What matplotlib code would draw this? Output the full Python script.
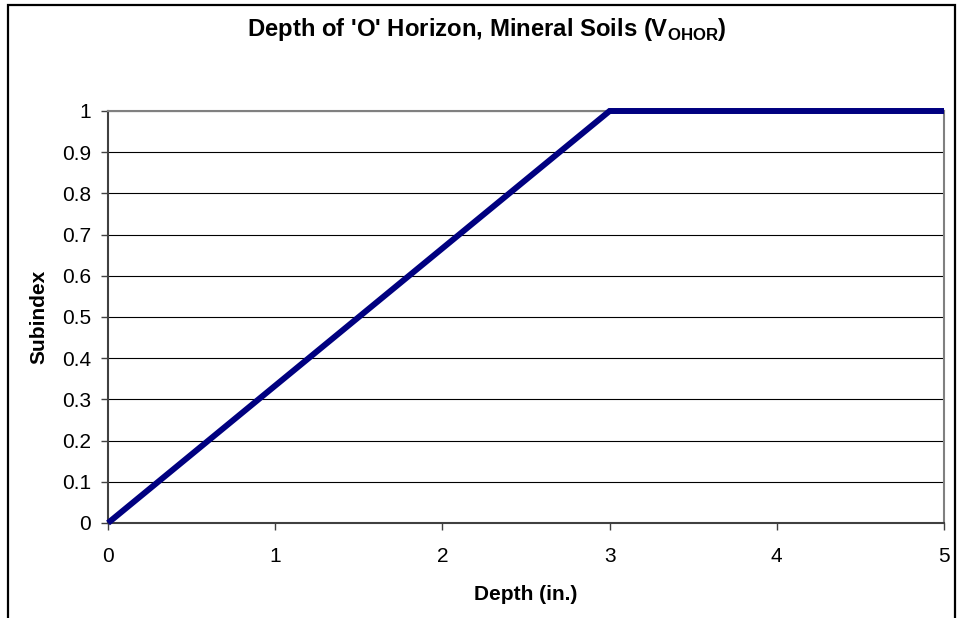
import matplotlib.pyplot as plt
from matplotlib.patches import Rectangle

plt.rcParams['font.family'] = ['Liberation Sans', 'DejaVu Sans']
plt.rcParams['mathtext.fontset'] = 'custom'
plt.rcParams['mathtext.rm'] = 'Liberation Sans:bold'
plt.rcParams['mathtext.bf'] = 'Liberation Sans:bold'

# data
depth = [0, 3, 5]
subindex = [0, 1, 1]
x_ticks = [0, 1, 2, 3, 4, 5]
y_ticks = [0, 0.1, 0.2, 0.3, 0.4, 0.5, 0.6, 0.7, 0.8, 0.9, 1]
y_labels = ['0', '0.1', '0.2', '0.3', '0.4', '0.5', '0.6', '0.7', '0.8', '0.9', '1']

fig = plt.figure(figsize=(9.59, 6.18), dpi=100)
ax = fig.add_axes([108 / 959, 1 - 523 / 618, (944 - 108) / 959, (523 - 111) / 618])

# outer chart frame, open at the bottom like the reference
fig.patches.append(Rectangle((8 / 959, -0.1), (955 - 8) / 959, 1.1 - 5 / 618,
                             transform=fig.transFigure, fill=False,
                             edgecolor='black', linewidth=1.6))

ax.plot(depth, subindex, color='#000080', linewidth=4.3, solid_capstyle='butt',
        solid_joinstyle='miter', clip_on=False, zorder=3)

ax.set_xlim(0, 5)
ax.set_ylim(0, 1)
ax.set_xticks(x_ticks)
ax.set_yticks(y_ticks)
ax.set_yticklabels(y_labels)
ax.yaxis.grid(True, color='black', linewidth=0.8)
ax.set_axisbelow(True)

for side in ['top', 'right']:
    ax.spines[side].set_color('#808080')
    ax.spines[side].set_linewidth(1.5)
for side in ['left', 'bottom']:
    ax.spines[side].set_color('#404040')
    ax.spines[side].set_linewidth(1.5)

ax.tick_params(axis='both', direction='out', length=5, width=1, color='#404040',
               labelsize=15, colors='black')
ax.tick_params(axis='x', pad=12)
ax.tick_params(axis='y', pad=7)

ax.set_xlabel('Depth (in.)', fontsize=15, fontweight='bold', labelpad=14)
ax.set_ylabel('Subindex', fontsize=15, fontweight='bold', labelpad=10)

fig.text(487 / 959, 1 - 36 / 618, "Depth of 'O' Horizon, Mineral Soils (V$_{\\mathrm{OHOR}}$)",
         ha='center', va='baseline', fontsize=17.2, fontweight='bold')

fig.savefig('out.png', dpi=100)
